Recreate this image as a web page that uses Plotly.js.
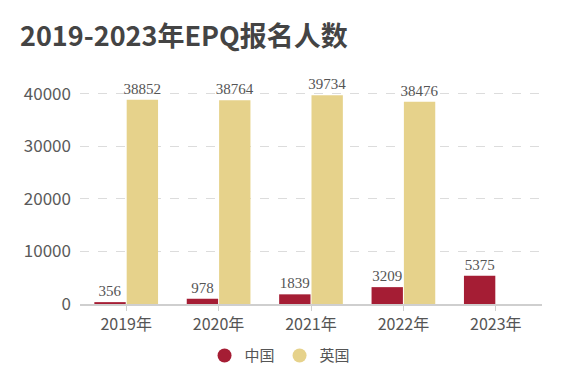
<!DOCTYPE html>
<html><head><meta charset="utf-8">
<script src="https://cdn.plot.ly/plotly-3.0.1.min.js"></script>
<style>html,body{margin:0;padding:0;background:#fff}</style>
</head><body>
<div id="chart" style="width:563px;height:384px"></div>
<script>
const years = ['2019年','2020年','2021年','2022年','2023年'];
const china = [356, 978, 1839, 3209, 5375];
const uk = [38852, 38764, 39734, 38476, null];
const seriesNames = ['中国','英国'];
const colors = ['#A51D34','#E6D28B'];

const labelFont = {family:'"Liberation Serif", "DejaVu Serif", serif', size:15, color:'#555'};
function barTrace(name, vals, color){
  return {type:'bar', name:name, x:years, y:vals, marker:{color:color},
    text:vals.map(v=>v==null?'':String(v)), textposition:'outside', textfont:labelFont,
    constraintext:'none', cliponaxis:false, showlegend:false, hoverinfo:'x+y'};
}
function legendTrace(name, color){
  return {type:'scatter', mode:'markers', name:name, x:[null], y:[null],
    marker:{symbol:'circle', size:14, color:color}, showlegend:true};
}
const data = [
  barTrace(seriesNames[0], china, colors[0]),
  barTrace(seriesNames[1], uk, colors[1]),
  legendTrace(seriesNames[0], colors[0]),
  legendTrace(seriesNames[1], colors[1])
];
const sans = '"Noto Sans CJK SC", "Noto Sans", sans-serif';
const layout = {
  width:563, height:384,
  margin:{l:80, r:21, t:84, b:76},
  paper_bgcolor:'#fff', plot_bgcolor:'#fff',
  title:{text:'<b>2019-2023年EPQ报名人数</b>', x:20/563, xref:'container', xanchor:'left',
    y:1-37/384, yref:'container', yanchor:'middle',
    font:{family:sans, size:27, color:'#444'}},
  barmode:'group', bargap:0.3, bargroupgap:0.03,
  xaxis:{type:'category', showline:true, linecolor:'#cfcfcf', linewidth:1.5,
    ticks:'outside', ticklen:5, tickcolor:'#cfcfcf',
    tickfont:{family:sans, size:16, color:'#555'}, showgrid:false},
  yaxis:{range:[0, 41870], tickvals:[0,10000,20000,30000,40000], ticktext:['0','10000','20000','30000','40000'],
    showgrid:true, gridcolor:'#dcdcdc', griddash:'dash', gridwidth:1, zeroline:false,
    tickfont:{family:sans, size:17, color:'#5a5a5a'}, ticklabelstandoff:8},
  legend:{orientation:'h', x:0.433, xanchor:'center', y:-0.235, yanchor:'middle',
    font:{family:sans, size:15, color:'#555'}, itemwidth:30},
  showlegend:true
};
Plotly.newPlot('chart', data, layout, {staticPlot:true});
</script>
</body></html>
